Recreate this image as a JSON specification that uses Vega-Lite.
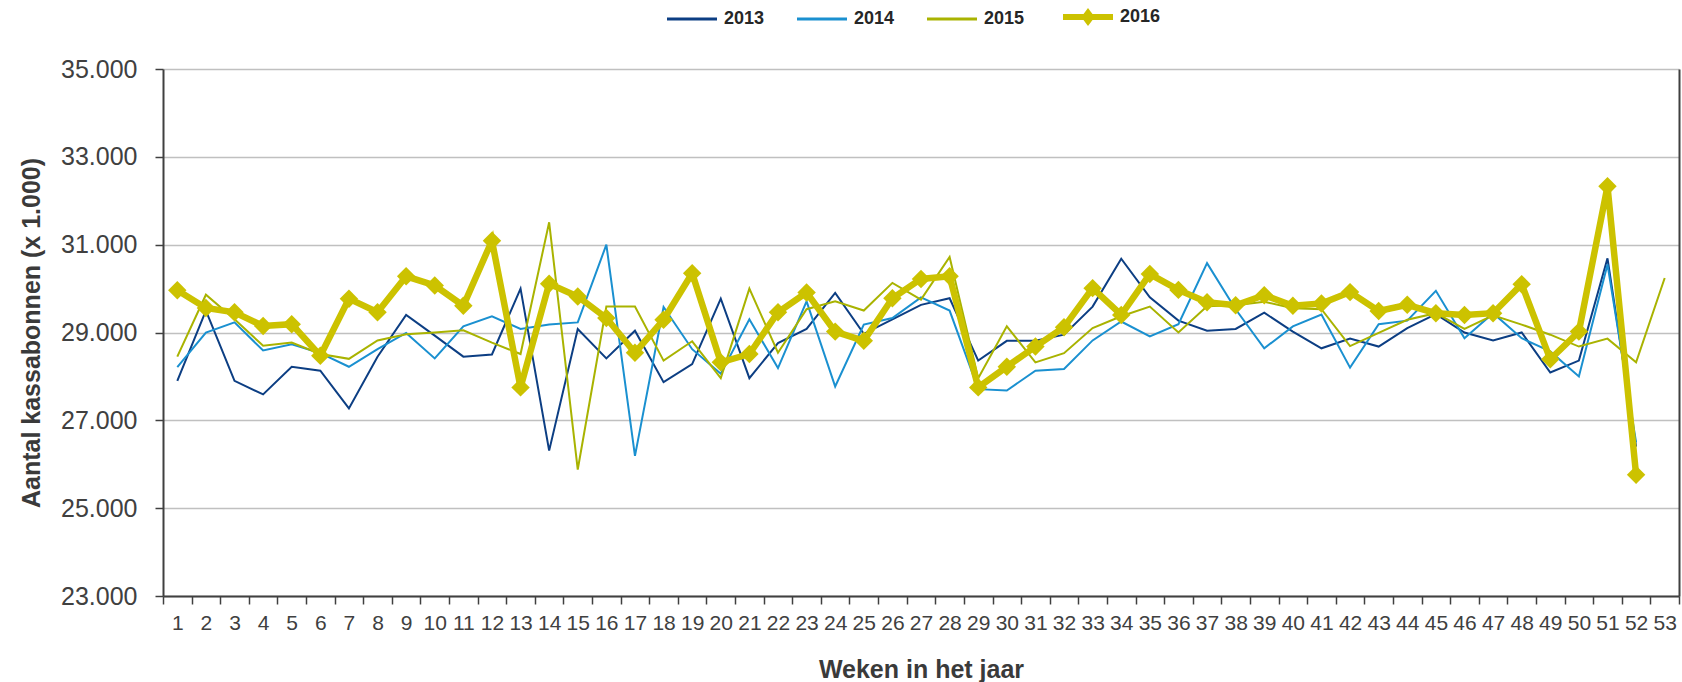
{
  "$schema": "https://vega.github.io/schema/vega-lite/v6.json",
  "width": 1516,
  "height": 527,
  "autosize": {"type": "none"},
  "padding": {"left": 163, "top": 69, "right": 3, "bottom": 86},
  "background": "white",
  "config": {
    "font": "Liberation Sans",
    "view": {"stroke": null},
    "axis": {
      "domainColor": "#404040",
      "domainWidth": 2,
      "tickColor": "#404040",
      "tickWidth": 1.5,
      "tickSize": 8,
      "labelColor": "#404040",
      "labelFont": "Liberation Sans",
      "titleFont": "Liberation Sans",
      "titleColor": "#3a3a3a",
      "titleFontWeight": "bold",
      "titleFontSize": 25,
      "gridColor": "#c0c0c0",
      "gridWidth": 1.5
    },
    "legend": {
      "orient": "none",
      "legendX": 520,
      "legendY": -64,
      "direction": "horizontal",
      "symbolType": "stroke",
      "symbolSize": 2500,
      "symbolStrokeWidth": 3,
      "labelFont": "Liberation Sans",
      "labelFontSize": 18,
      "labelFontWeight": "bold",
      "labelColor": "#262626",
      "labelOffset": 23,
      "columnPadding": 26
    }
  },
  "data": {
    "values": [
      {"week": 1, "2013": 27900, "2014": 28210, "2015": 28450, "2016": 29960},
      {"week": 2, "2013": 29500, "2014": 29000, "2015": 29860, "2016": 29560},
      {"week": 3, "2013": 27900, "2014": 29230, "2015": 29300, "2016": 29460},
      {"week": 4, "2013": 27590, "2014": 28590, "2015": 28700, "2016": 29150},
      {"week": 5, "2013": 28220, "2014": 28730, "2015": 28770, "2016": 29190},
      {"week": 6, "2013": 28130, "2014": 28530, "2015": 28510, "2016": 28470},
      {"week": 7, "2013": 27270, "2014": 28220, "2015": 28400, "2016": 29770},
      {"week": 8, "2013": 28450, "2014": 28620, "2015": 28820, "2016": 29460},
      {"week": 9, "2013": 29400, "2014": 28990, "2015": 28960, "2016": 30280},
      {"week": 10, "2013": 28930, "2014": 28410, "2015": 29000, "2016": 30070},
      {"week": 11, "2013": 28450, "2014": 29140, "2015": 29050, "2016": 29610},
      {"week": 12, "2013": 28500, "2014": 29370, "2015": 28770, "2016": 31090},
      {"week": 13, "2013": 30000, "2014": 29080, "2015": 28510, "2016": 27750},
      {"week": 14, "2013": 26310, "2014": 29180, "2015": 31510, "2016": 30110},
      {"week": 15, "2013": 29080, "2014": 29230, "2015": 25880, "2016": 29820},
      {"week": 16, "2013": 28410, "2014": 31000, "2015": 29590, "2016": 29330},
      {"week": 17, "2013": 29040, "2014": 26190, "2015": 29590, "2016": 28540},
      {"week": 18, "2013": 27870, "2014": 29580, "2015": 28360, "2016": 29290},
      {"week": 19, "2013": 28280, "2014": 28620, "2015": 28800, "2016": 30350},
      {"week": 20, "2013": 29770, "2014": 28060, "2015": 27960, "2016": 28320},
      {"week": 21, "2013": 27960, "2014": 29300, "2015": 30000, "2016": 28510},
      {"week": 22, "2013": 28760, "2014": 28190, "2015": 28540, "2016": 29460},
      {"week": 23, "2013": 29080, "2014": 29710, "2015": 29530, "2016": 29910},
      {"week": 24, "2013": 29900, "2014": 27770, "2015": 29710, "2016": 29020},
      {"week": 25, "2013": 28970, "2014": 29180, "2015": 29500, "2016": 28810},
      {"week": 26, "2013": 29300, "2014": 29330, "2015": 30130, "2016": 29780},
      {"week": 27, "2013": 29630, "2014": 29800, "2015": 29750, "2016": 30220},
      {"week": 28, "2013": 29780, "2014": 29500, "2015": 30720, "2016": 30280},
      {"week": 29, "2013": 28360, "2014": 27710, "2015": 27960, "2016": 27750},
      {"week": 30, "2013": 28810, "2014": 27680, "2015": 29140, "2016": 28220},
      {"week": 31, "2013": 28810, "2014": 28130, "2015": 28320, "2016": 28680},
      {"week": 32, "2013": 28950, "2014": 28170, "2015": 28530, "2016": 29120},
      {"week": 33, "2013": 29590, "2014": 28820, "2015": 29100, "2016": 30010},
      {"week": 34, "2013": 30680, "2014": 29250, "2015": 29370, "2016": 29400},
      {"week": 35, "2013": 29800, "2014": 28910, "2015": 29590, "2016": 30330},
      {"week": 36, "2013": 29270, "2014": 29190, "2015": 29000, "2016": 29970},
      {"week": 37, "2013": 29040, "2014": 30580, "2015": 29600, "2016": 29690},
      {"week": 38, "2013": 29080, "2014": 29530, "2015": 29620, "2016": 29620},
      {"week": 39, "2013": 29450, "2014": 28640, "2015": 29700, "2016": 29850},
      {"week": 40, "2013": 29020, "2014": 29140, "2015": 29550, "2016": 29610},
      {"week": 41, "2013": 28640, "2014": 29410, "2015": 29530, "2016": 29660},
      {"week": 42, "2013": 28860, "2014": 28200, "2015": 28690, "2016": 29920},
      {"week": 43, "2013": 28680, "2014": 29190, "2015": 28990, "2016": 29490},
      {"week": 44, "2013": 29100, "2014": 29270, "2015": 29290, "2016": 29630},
      {"week": 45, "2013": 29420, "2014": 29950, "2015": 29440, "2016": 29440},
      {"week": 46, "2013": 29000, "2014": 28870, "2015": 29080, "2016": 29400},
      {"week": 47, "2013": 28820, "2014": 29440, "2015": 29390, "2016": 29440},
      {"week": 48, "2013": 29000, "2014": 28870, "2015": 29180, "2016": 30100},
      {"week": 49, "2013": 28090, "2014": 28570, "2015": 28950, "2016": 28390},
      {"week": 50, "2013": 28360, "2014": 28000, "2015": 28680, "2016": 29020},
      {"week": 51, "2013": 30690, "2014": 30550, "2015": 28860, "2016": 32330},
      {"week": 52, "2013": 26400, "2014": 26500, "2015": 28320, "2016": 25760},
      {"week": 53, "2013": null, "2014": null, "2015": 30240, "2016": null}
    ]
  },
  "transform": [
    {"fold": ["2013", "2014", "2015", "2016"], "as": ["year", "value"]},
    {"filter": "isValid(datum.value)"}
  ],
  "encoding": {
    "x": {
      "field": "week",
      "type": "ordinal",
      "bandPosition": 0.5,
      "scale": {"type": "band", "paddingInner": 0, "paddingOuter": 0},
      "axis": {
        "title": "Weken in het jaar",
        "labelAngle": 0,
        "labelFontSize": 21,
        "labelPadding": 8,
        "labelOverlap": false,
        "tickBand": "extent",
        "grid": false,
        "titlePadding": 24
      }
    }
  },
  "layer": [
    {
      "transform": [{"filter": "datum.year !== '2016'"}],
      "mark": {"type": "line", "strokeWidth": 2},
      "encoding": {
        "y": {
          "field": "value",
          "type": "quantitative",
          "scale": {"domain": [23000, 35000], "nice": false, "zero": false},
          "axis": {
            "title": "Aantal kassabonnen (x 1.000)",
            "values": [23000, 25000, 27000, 29000, 31000, 33000, 35000],
            "labelExpr": "replace(format(datum.value, ','), ',', '.')",
            "labelFontSize": 25,
            "labelPadding": 18,
            "titlePadding": 16,
            "grid": true
          }
        },
        "color": {
          "field": "year",
          "type": "nominal",
          "title": null,
          "scale": {"domain": ["2013", "2014", "2015", "2016"], "range": ["#0c3e83", "#1a90d0", "#a9b300", "#ccc200"]},
          "legend": {
            "encode": {
              "symbols": {
                "update": {
                  "strokeWidth": {"signal": "datum.value === '2016' ? 6 : 3"},
                  "shape": {"signal": "datum.value === '2016' ? 'M-1,0.12H1M0,-0.04L0.12,0.12L0,0.28L-0.12,0.12Z' : 'stroke'"},
                  "fill": {"signal": "datum.value === '2016' ? '#ccc200' : 'transparent'"}
                }
              },
              "labels": {
                "update": {
                  "dy": {"signal": "datum.value === '2016' ? 3 : 0"}
                }
              }
            }
          }
        }
      }
    },
    {
      "transform": [{"filter": "datum.year === '2016'"}],
      "mark": {"type": "line", "strokeWidth": 6.5},
      "encoding": {
        "y": {"field": "value", "type": "quantitative", "axis": null},
        "color": {"field": "year", "type": "nominal", "title": null}
      }
    },
    {
      "transform": [{"filter": "datum.year === '2016'"}],
      "mark": {"type": "point", "shape": "diamond", "filled": true, "size": 340, "color": "#ccc200", "opacity": 1},
      "encoding": {
        "y": {"field": "value", "type": "quantitative", "axis": null}
      }
    },
    {
      "mark": {"type": "point", "opacity": 0},
      "encoding": {
        "y": {
          "field": "value",
          "type": "quantitative",
          "axis": {"orient": "right", "labels": false, "ticks": false, "grid": false, "title": null, "domainColor": "#404040", "domainWidth": 2}
        }
      }
    }
  ],
  "resolve": {"axis": {"y": "independent"}}
}
